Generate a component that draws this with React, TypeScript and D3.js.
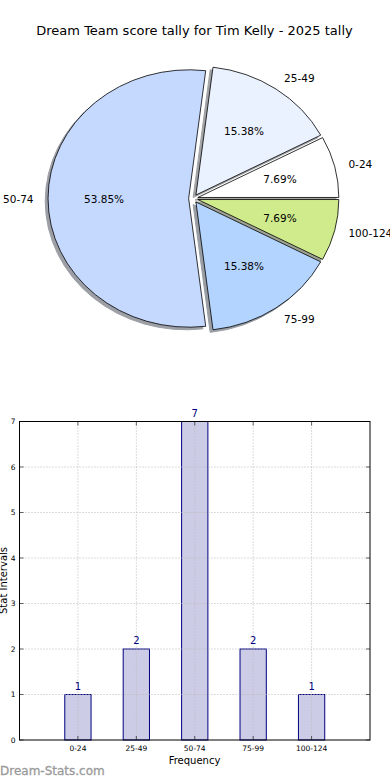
import React from "react";
import * as d3 from "d3";

const categories = ["0-24", "25-49", "50-74", "75-99", "100-124"];
const counts = [1, 2, 7, 2, 1];
const pieColors = ["#ffffff", "#eaf1ff", "#c5d9ff", "#b3d4ff", "#cfeb8c"];
const yTicks = [0, 1, 2, 3, 4, 5, 6, 7];
const title = "Dream Team score tally for Tim Kelly - 2025 tally";

const FONT = "DejaVu Sans, sans-serif";
const BAR_FILL = "#cccce6";

function shade(c: string) {
  const col = d3.rgb(c);
  return d3.rgb(col.r * 0.3, col.g * 0.3, col.b * 0.3).formatHex();
}

export default function App() {
  const cx = 193.3;
  const cy = 198.5;
  const rx = 141;
  const ry = 128.7;
  const explode = 0.033;

  const total = d3.sum(counts);
  const pie = d3
    .pie<number>()
    .sort(null)
    .startAngle(Math.PI / 2)
    .endAngle(Math.PI / 2 - 2 * Math.PI)(counts);
  const arc = d3.arc<d3.PieArcDatum<number>>().innerRadius(0).outerRadius(1);

  const slices = pie.map((d, i) => {
    const m = (d.startAngle + d.endAngle) / 2;
    const ux = Math.sin(m);
    const uy = -Math.cos(m);
    const ex = explode * ux;
    const ey = explode * uy;
    const ocx = cx + ex * rx;
    const ocy = cy + ey * ry;
    return {
      d,
      i,
      ex,
      ey,
      lx: ocx + 1.1 * rx * ux,
      ly: ocy + 1.1 * ry * uy,
      px: ocx + 0.6 * rx * ux,
      py: ocy + 0.6 * ry * uy,
      ux,
    };
  });

  const left = 19.5;
  const right = 370;
  const top = 421.5;
  const bottom = 740;
  const x = d3.scaleLinear().domain([-1, 5]).range([left, right]);
  const y = d3.scaleLinear().domain([0, 7]).range([bottom, top]);
  const barW = 0.45;
  const grid = "#b8b8b8";

  return (
    <svg
      width={390}
      height={780}
      style={{ position: "absolute", left: 0, top: 0, background: "#fff" }}
      fontFamily={FONT}
    >
      <rect x={0} y={0} width={390} height={780} fill="#fff" />
      <text x={194.5} y={34.5} fontSize={13} textAnchor="middle" fill="#000">
        {title}
      </text>

      {slices.map((s) => (
        <path
          key={"sh" + s.i}
          d={arc(s.d) || ""}
          transform={`translate(${cx},${cy}) scale(${rx},${ry}) translate(${s.ex - 0.02},${s.ey + 0.02})`}
          fill={shade(pieColors[s.i])}
          stroke={shade(pieColors[s.i])}
          strokeWidth={1}
          vectorEffect="non-scaling-stroke"
          opacity={0.5}
        />
      ))}
      {slices.map((s) => (
        <path
          key={"sl" + s.i}
          d={arc(s.d) || ""}
          transform={`translate(${cx},${cy}) scale(${rx},${ry}) translate(${s.ex},${s.ey})`}
          fill={pieColors[s.i]}
          stroke="#000"
          strokeWidth={0.8}
          strokeLinejoin="round"
          vectorEffect="non-scaling-stroke"
        />
      ))}
      {slices.map((s) => (
        <text
          key={"lb" + s.i}
          x={s.lx}
          y={s.ly}
          fontSize={10.5}
          textAnchor={s.ux > 0 ? "start" : "end"}
          dominantBaseline="central"
          fill="#000"
        >
          {categories[s.i]}
        </text>
      ))}
      {slices.map((s) => (
        <text
          key={"pc" + s.i}
          x={s.px}
          y={s.py}
          fontSize={10.5}
          textAnchor="middle"
          dominantBaseline="central"
          fill="#000"
        >
          {((counts[s.i] / total) * 100).toFixed(2) + "%"}
        </text>
      ))}

      {counts.map((v, i) => (
        <rect
          key={"bar" + i}
          x={x(i - barW / 2)}
          y={y(v)}
          width={x(barW) - x(0)}
          height={y(0) - y(v)}
          fill={BAR_FILL}
          stroke="#000080"
          strokeWidth={1}
        />
      ))}
      {yTicks.slice(1, -1).map((t) => (
        <line
          key={"gy" + t}
          x1={left}
          x2={right}
          y1={y(t)}
          y2={y(t)}
          stroke={grid}
          strokeWidth={1}
          strokeDasharray="1,2"
        />
      ))}
      {categories.map((c, i) => (
        <line
          key={"gx" + c}
          x1={x(i)}
          x2={x(i)}
          y1={top}
          y2={bottom}
          stroke={grid}
          strokeWidth={1}
          strokeDasharray="1,2"
        />
      ))}
      <rect
        x={left}
        y={top}
        width={right - left}
        height={bottom - top}
        fill="none"
        stroke="#000"
        strokeWidth={1}
      />
      {yTicks.map((t) => (
        <g key={"yt" + t}>
          <line x1={left} x2={left + 4} y1={y(t)} y2={y(t)} stroke="#000" strokeWidth={0.6} />
          <line x1={right} x2={right - 4} y1={y(t)} y2={y(t)} stroke="#000" strokeWidth={0.6} />
          <text
            x={left - 4}
            y={y(t)}
            fontSize={7.5}
            textAnchor="end"
            dominantBaseline="central"
            fill="#000"
          >
            {t}
          </text>
        </g>
      ))}
      {categories.map((c, i) => (
        <g key={"xt" + c}>
          <line x1={x(i)} x2={x(i)} y1={bottom} y2={bottom - 4} stroke="#000" strokeWidth={0.6} />
          <line x1={x(i)} x2={x(i)} y1={top} y2={top + 4} stroke="#000" strokeWidth={0.6} />
          <text x={x(i)} y={bottom + 10.5} fontSize={7.5} textAnchor="middle" fill="#000">
            {c}
          </text>
        </g>
      ))}
      {counts.map((v, i) => (
        <text
          key={"vl" + i}
          x={x(i)}
          y={y(v) - 5}
          fontSize={10}
          textAnchor="middle"
          fill="#000080"
        >
          {v}
        </text>
      ))}
      <text x={194.5} y={764} fontSize={10} textAnchor="middle" fill="#000">
        Frequency
      </text>
      <text
        transform={`translate(7,580.5) rotate(-90)`}
        fontSize={10}
        textAnchor="middle"
        fill="#000"
      >
        Stat Intervals
      </text>
      <text x={0} y={775} fontSize={12} fill="#9a9a9a" stroke="#9a9a9a" strokeWidth={0.3}>
        Dream-Stats.com
      </text>
    </svg>
  );
}
